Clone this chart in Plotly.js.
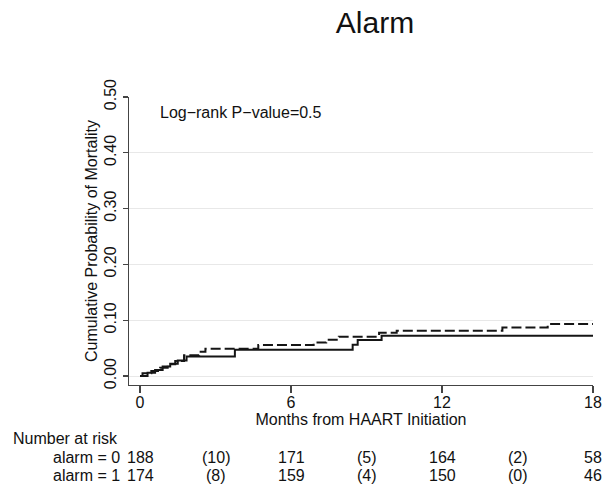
<!DOCTYPE html>
<html>
<head>
<meta charset="utf-8">
<script src="https://cdn.plot.ly/plotly-3.0.1.min.js"></script>
<style>html,body{margin:0;padding:0;background:#fff;}#chart{width:611px;height:484px;}</style>
</head>
<body>
<div id="chart"></div>
<script>
// ---- data ----
var chartTitle = "Alarm";
var xTitle = "Months from HAART Initiation";
var yTitle = "Cumulative Probability of Mortality";
var pValueText = "Log\u2212rank P\u2212value=0.5";

var xTicks = [0, 6, 12, 18];
var yTicks = [0, 0.1, 0.2, 0.3, 0.4, 0.5];
var yTickLabels = ["0.00", "0.10", "0.20", "0.30", "0.40", "0.50"];

// alarm = 0 (solid)
var time0 = [0, 0.3, 0.6, 0.9, 1.2, 1.5, 1.85, 3.77, 8.45, 8.65, 9.6, 18];
var cum0  = [0, 0.006, 0.011, 0.017, 0.022, 0.028, 0.035, 0.047, 0.056, 0.0645, 0.072, 0.072];

// alarm = 1 (dashed)
var time1 = [0, 0.1, 0.45, 0.8, 1.1, 1.4, 1.75, 2.35, 2.6, 4.7, 6.9, 7.4, 7.9, 9.5, 10.2, 14.4, 16.2, 18];
var cum1  = [0, 0.005, 0.009, 0.015, 0.021, 0.027, 0.037, 0.0436, 0.049, 0.0556, 0.06, 0.065, 0.0705, 0.0776, 0.081, 0.087, 0.093, 0.093];

// number at risk table
var riskHeader = "Number at risk";
var riskTimes = [0, 3, 6, 9, 12, 15, 18];
var riskLabels = ["alarm = 0", "alarm = 1"];
var risk0 = ["188", "(10)", "171", "(5)", "164", "(2)", "58"];
var risk1 = ["174", "(8)", "159", "(4)", "150", "(0)", "46"];

// ---- layout helpers ----
var W = 611, H = 484;
var M = {l: 129, r: 18, t: 97, b: 99};
var PW = W - M.l - M.r, PH = H - M.t - M.b;
function px2paperX(px) { return (px - M.l) / PW; }
function py2paperY(py) { return (H - M.b - py) / PH; }

var FONT = "Liberation Sans, Arial, Helvetica, sans-serif";
var TXT = "#111111";
var AX = "#444444";

var traces = [
  {x: time0, y: cum0, type: "scatter", mode: "lines", line: {shape: "hv", color: "#151515", width: 2}, name: riskLabels[0], hoverinfo: "skip"},
  {x: time1, y: cum1, type: "scatter", mode: "lines", line: {shape: "hv", color: "#151515", width: 2, dash: "10px,4px"}, name: riskLabels[1], hoverinfo: "skip"}
];

var annotations = [
  {text: pValueText, xref: "paper", yref: "paper", x: px2paperX(158), y: py2paperY(112), xanchor: "left", yanchor: "middle", showarrow: false, font: {family: FONT, size: 16, color: TXT}},
  {text: riskHeader, xref: "paper", yref: "paper", x: px2paperX(11), y: py2paperY(438), xanchor: "left", yanchor: "middle", showarrow: false, font: {family: FONT, size: 16, color: TXT}}
];
var rows = [risk0, risk1];
var rowY = [457, 475];
rows.forEach(function (vals, r) {
  annotations.push({text: riskLabels[r], xref: "paper", yref: "paper", x: px2paperX(122), y: py2paperY(rowY[r]), xanchor: "right", yanchor: "middle", showarrow: false, font: {family: FONT, size: 16, color: TXT}});
  vals.forEach(function (v, i) {
    annotations.push({text: v, xref: "x", yref: "paper", x: riskTimes[i], y: py2paperY(rowY[r]), xanchor: "center", yanchor: "middle", showarrow: false, font: {family: FONT, size: 16, color: TXT}});
  });
});

var layout = {
  width: W, height: H,
  margin: M,
  paper_bgcolor: "#ffffff", plot_bgcolor: "#ffffff",
  showlegend: false,
  font: {family: FONT, size: 16, color: TXT},
  title: {text: chartTitle, font: {family: FONT, size: 30, color: TXT}, xref: "container", yref: "container", x: 375 / W, y: 1 - 22 / H, xanchor: "center", yanchor: "middle"},
  xaxis: {
    range: [-0.437, 18], tickmode: "array", tickvals: xTicks, ticktext: xTicks.map(String),
    showgrid: false, zeroline: false, showline: true, linecolor: AX, linewidth: 1.2,
    ticks: "outside", ticklen: 7, tickcolor: AX, tickwidth: 1.2, ticklabelstandoff: -4,
    tickfont: {family: FONT, size: 16, color: TXT},
    title: {text: xTitle, font: {family: FONT, size: 16, color: TXT}, standoff: 0}
  },
  yaxis: {
    range: [-0.0161, 0.5], tickmode: "array", tickvals: yTicks, ticktext: yTickLabels, tickangle: -90,
    showgrid: true, gridcolor: "#e8e8e8", gridwidth: 1, zeroline: false,
    showline: true, linecolor: AX, linewidth: 1.2,
    ticks: "outside", ticklen: 5, tickcolor: AX, tickwidth: 1.2,
    tickfont: {family: FONT, size: 16, color: TXT},
    title: {text: yTitle, font: {family: FONT, size: 16, color: TXT}, standoff: 0}
  },
  annotations: annotations
};

Plotly.newPlot("chart", traces, layout, {staticPlot: true, displayModeBar: false});
</script>
</body>
</html>
